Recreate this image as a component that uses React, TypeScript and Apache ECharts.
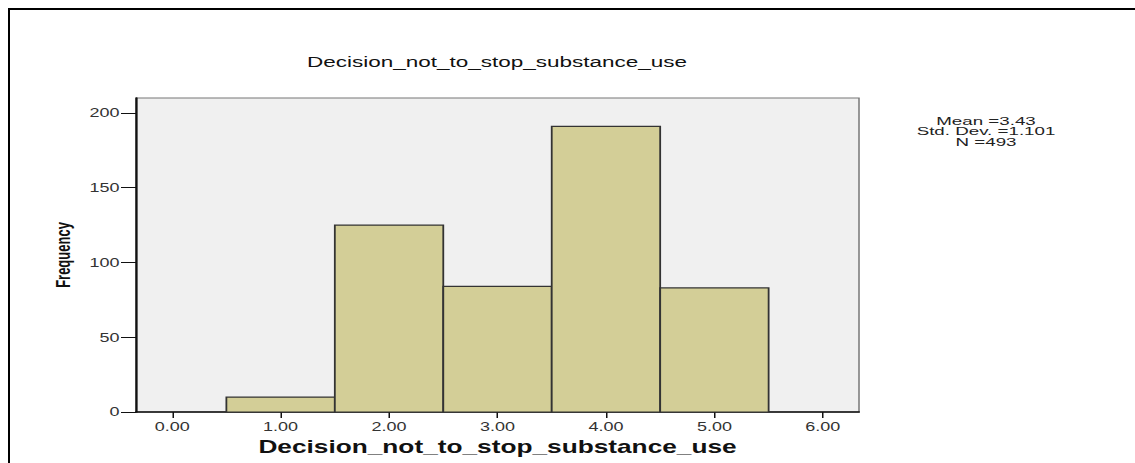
import React, { useEffect, useRef } from "react";
import * as echarts from "echarts";

// ---- data ----
const binCenters = [1, 2, 3, 4, 5];
const frequencies = [10, 125, 84, 191, 83];
const xTickValues = [0, 1, 2, 3, 4, 5, 6];
const yTickValues = [0, 50, 100, 150, 200];
const chartTitle = "Decision_not_to_stop_substance_use";
const xAxisTitle = "Decision_not_to_stop_substance_use";
const yAxisTitle = "Frequency";
const statLines = ["Mean =3.43", "Std. Dev. =1.101", "N =493"];

// horizontal stretch of the whole picture (the reference is a stretched image)
const S = 1.5;
const PAGE_W = 1135;
const PAGE_H = 463;
const FONT = "'Liberation Sans', Arial, sans-serif";

export default function App() {
  const ref = useRef<HTMLDivElement>(null);

  useEffect(() => {
    if (!ref.current) return;
    const chart = echarts.init(ref.current, undefined, { renderer: "svg" });
    const px = (x: number) => x / S;
    chart.setOption({
      animation: false,
      backgroundColor: "#ffffff",
      title: {
        text: chartTitle,
        left: px(497),
        top: 54,
        textAlign: "center",
        padding: 0,
        textStyle: { fontFamily: FONT, fontSize: 15, fontWeight: 500, color: "#111" },
      },
      grid: {
        left: px(136),
        top: 98,
        width: px(723),
        height: 314,
        show: true,
        backgroundColor: "#f0f0f0",
        borderColor: "#777",
        borderWidth: 1,
        containLabel: false,
      },
      xAxis: {
        type: "value",
        min: -1 / 3,
        max: 19 / 3,
        name: xAxisTitle,
        nameLocation: "middle",
        nameGap: 25,
        nameTextStyle: { fontFamily: FONT, fontSize: 17.5, fontWeight: "bold", color: "#111" },
        axisLine: { show: true, onZero: false, lineStyle: { color: "#111", width: 1.5 } },
        axisTick: { show: true, customValues: xTickValues, length: 6, lineStyle: { color: "#111" } },
        axisLabel: {
          customValues: xTickValues,
          formatter: (v: number) => v.toFixed(2),
          fontFamily: FONT,
          fontSize: 12,
          color: "#333",
          margin: 9,
        },
        splitLine: { show: false },
      },
      yAxis: {
        type: "value",
        min: 0,
        max: 210,
        name: yAxisTitle,
        nameLocation: "middle",
        nameRotate: 90,
        nameGap: 37,
        nameTextStyle: { fontFamily: FONT, fontSize: 13, fontWeight: "bold", color: "#111" },
        axisLine: { show: true, onZero: false, lineStyle: { color: "#111", width: 1.5 } },
        axisTick: { show: true, customValues: yTickValues, length: 10, lineStyle: { color: "#111" } },
        axisLabel: {
          customValues: yTickValues,
          fontFamily: FONT,
          fontSize: 12,
          color: "#333",
          margin: 11,
        },
        splitLine: { show: false },
      },
      graphic: [
        {
          type: "text",
          x: px(986),
          y: 116,
          scaleX: 1.25,
          style: {
            text: statLines.join("\n"),
            align: "center",
            verticalAlign: "top",
            fontFamily: FONT,
            fontSize: 10,
            lineHeight: 10.5,
            fill: "#222",
          },
        },
      ],
      series: [
        {
          type: "custom",
          data: binCenters.map((c, i) => [c, frequencies[i]]),
          renderItem: (params: any, api: any) => {
            const x = api.value(0);
            const y = api.value(1);
            const p0 = api.coord([x - 0.5, 0]);
            const p1 = api.coord([x + 0.5, y]);
            return {
              type: "rect",
              shape: { x: p0[0], y: p1[1], width: p1[0] - p0[0], height: p0[1] - p1[1] },
              style: { fill: "#d3ce97", stroke: "#333", lineWidth: 1.2 },
            };
          },
        },
      ],
    });
    return () => chart.dispose();
  }, []);

  return (
    <div style={{ position: "absolute", left: 0, top: 0, width: PAGE_W, height: PAGE_H, overflow: "hidden", background: "#fff" }}>
      <div
        ref={ref}
        style={{
          position: "absolute",
          left: 0,
          top: 0,
          width: PAGE_W / S,
          height: PAGE_H,
          transform: `scaleX(${S})`,
          transformOrigin: "0 0",
        }}
      />
      <div
        style={{
          position: "absolute",
          left: 8,
          top: 8,
          width: PAGE_W - 8,
          height: PAGE_H - 8,
          borderTop: "2px solid #000",
          borderLeft: "2px solid #000",
          pointerEvents: "none",
        }}
      />
    </div>
  );
}
